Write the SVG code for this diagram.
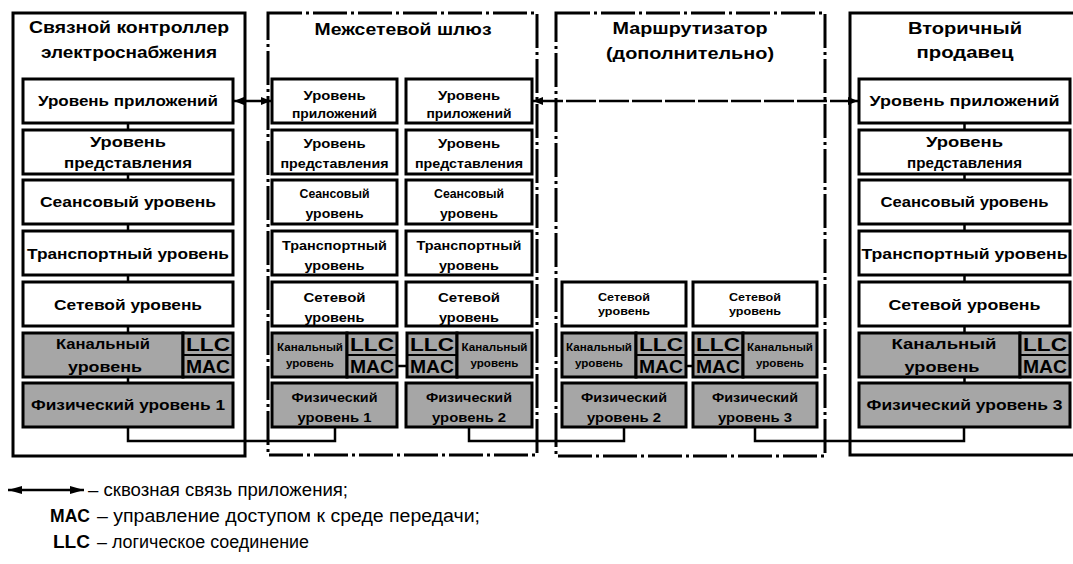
<svg xmlns="http://www.w3.org/2000/svg" width="1073" height="564" viewBox="0 0 1073 564">
<defs>
<style>
.t{font-family:"Liberation Sans",Arial,sans-serif;font-weight:bold;text-anchor:middle;fill:#000}
.l{font-family:"Liberation Sans",Arial,sans-serif;fill:#000;font-size:18px}
.box{fill:#fff;stroke:#000;stroke-width:3}
.g{fill:#a6a6a6;stroke:#000;stroke-width:3}
.outer{fill:none;stroke:#000;stroke-width:3}
.dd{fill:none;stroke:#000;stroke-width:3;stroke-dasharray:34 4 3 4}
.c{fill:none;stroke:#000;stroke-width:2.5}
.f16{font-size:16px}.f15{font-size:15px}.f13{font-size:13px}.f11{font-size:11px}.f18{font-size:18px}
</style>
<marker id="ah" viewBox="0 0 10 8" refX="10" refY="4" markerWidth="10" markerHeight="8" markerUnits="userSpaceOnUse" orient="auto-start-reverse"><path d="M0,0 L10,4 L0,8 z" fill="#000"/></marker>
<marker id="ahl" viewBox="0 0 14 8" refX="14" refY="4" markerWidth="14" markerHeight="8" markerUnits="userSpaceOnUse" orient="auto-start-reverse"><path d="M0,0 L14,4 L0,8 z" fill="#000"/></marker>
</defs>
<rect width="1073" height="564" fill="#fff"/>

<g id="connectors">
<path class="c" d="M128 123 V383"/>
<path class="c" d="M964.5 123 V383"/>
<path class="c" d="M128 427 V441 H335 V427"/>
<path class="c" d="M469 427 V441 H624 V427"/>
<path class="c" d="M755 427 V441 H964 V427"/>
<path class="c" d="M397 366 H407"/>
<path class="c" d="M686 366 H693"/>
<path class="c" d="M234 101 H271" marker-start="url(#ah)" marker-end="url(#ah)"/>
<path class="c" d="M533 101 H858" stroke-dasharray="30 3" marker-start="url(#ah)" marker-end="url(#ah)"/>
</g>

<g id="controller">
<rect class="outer" x="13" y="13" width="232" height="443"/>
<text class="t f16" x="129" y="33" textLength="200" lengthAdjust="spacingAndGlyphs">Связной контроллер</text>
<text class="t f16" x="129" y="58" textLength="176" lengthAdjust="spacingAndGlyphs">электроснабжения</text>
<rect class="box" x="23" y="79" width="210" height="44"/>
<text class="t f15" x="128" y="106" textLength="180" lengthAdjust="spacingAndGlyphs">Уровень приложений</text>
<rect class="box" x="23" y="130" width="210" height="44"/>
<text class="t f15" x="128" y="147" textLength="76" lengthAdjust="spacingAndGlyphs">Уровень</text>
<text class="t f15" x="128" y="168" textLength="128" lengthAdjust="spacingAndGlyphs">представления</text>
<rect class="box" x="23" y="180" width="210" height="44"/>
<text class="t f15" x="128" y="207" textLength="176" lengthAdjust="spacingAndGlyphs">Сеансовый уровень</text>
<rect class="box" x="23" y="231" width="210" height="44"/>
<text class="t f15" x="128" y="259" textLength="202" lengthAdjust="spacingAndGlyphs">Транспортный уровень</text>
<rect class="box" x="23" y="282" width="210" height="44"/>
<text class="t f15" x="128" y="310" textLength="148" lengthAdjust="spacingAndGlyphs">Сетевой уровень</text>
<rect class="g" x="23" y="333" width="160" height="44"/>
<text class="t f15" x="103" y="349" textLength="94" lengthAdjust="spacingAndGlyphs">Канальный</text>
<text class="t f15" x="105" y="372" textLength="74" lengthAdjust="spacingAndGlyphs">уровень</text>
<rect class="g" x="183" y="333" width="50" height="44"/>
<line x1="183" y1="355" x2="233" y2="355" stroke="#000" stroke-width="2"/>
<text class="t f18" x="208" y="350.5" textLength="44" lengthAdjust="spacingAndGlyphs">LLC</text>
<text class="t f18" x="208" y="372.5" textLength="44" lengthAdjust="spacingAndGlyphs">MAC</text>
<rect class="g" x="23" y="383" width="210" height="44"/>
<text class="t f15" x="128" y="410" textLength="194" lengthAdjust="spacingAndGlyphs">Физический уровень 1</text>
</g>

<g id="gateway">
<rect class="dd" x="268" y="13" width="269" height="442"/>
<text class="t f16" x="403" y="35" textLength="177" lengthAdjust="spacingAndGlyphs">Межсетевой шлюз</text>
<rect class="box" x="272" y="79" width="125" height="44"/>
<text class="t f13" x="334.5" y="100" textLength="62" lengthAdjust="spacingAndGlyphs">Уровень</text>
<text class="t f13" x="334.5" y="118" textLength="85" lengthAdjust="spacingAndGlyphs">приложений</text>
<rect class="box" x="406" y="79" width="126" height="44"/>
<text class="t f13" x="469" y="100" textLength="62" lengthAdjust="spacingAndGlyphs">Уровень</text>
<text class="t f13" x="469" y="118" textLength="85" lengthAdjust="spacingAndGlyphs">приложений</text>
<rect class="box" x="272" y="130" width="125" height="44"/>
<text class="t f13" x="334.5" y="148" textLength="62" lengthAdjust="spacingAndGlyphs">Уровень</text>
<text class="t f13" x="334.5" y="168" textLength="108" lengthAdjust="spacingAndGlyphs">представления</text>
<rect class="box" x="406" y="130" width="126" height="44"/>
<text class="t f13" x="469" y="148" textLength="62" lengthAdjust="spacingAndGlyphs">Уровень</text>
<text class="t f13" x="469" y="168" textLength="108" lengthAdjust="spacingAndGlyphs">представления</text>
<rect class="box" x="272" y="180" width="125" height="44"/>
<text class="t f13" x="334.5" y="198" textLength="70" lengthAdjust="spacingAndGlyphs">Сеансовый</text>
<text class="t f13" x="334.5" y="218" textLength="58" lengthAdjust="spacingAndGlyphs">уровень</text>
<rect class="box" x="406" y="180" width="126" height="44"/>
<text class="t f13" x="469" y="198" textLength="70" lengthAdjust="spacingAndGlyphs">Сеансовый</text>
<text class="t f13" x="469" y="218" textLength="58" lengthAdjust="spacingAndGlyphs">уровень</text>
<rect class="box" x="272" y="231" width="125" height="44"/>
<text class="t f13" x="334.5" y="250" textLength="105" lengthAdjust="spacingAndGlyphs">Транспортный</text>
<text class="t f13" x="334.5" y="270" textLength="60" lengthAdjust="spacingAndGlyphs">уровень</text>
<rect class="box" x="406" y="231" width="126" height="44"/>
<text class="t f13" x="469" y="250" textLength="105" lengthAdjust="spacingAndGlyphs">Транспортный</text>
<text class="t f13" x="469" y="270" textLength="60" lengthAdjust="spacingAndGlyphs">уровень</text>
<rect class="box" x="272" y="282" width="125" height="44"/>
<text class="t f13" x="334.5" y="302" textLength="62" lengthAdjust="spacingAndGlyphs">Сетевой</text>
<text class="t f13" x="334.5" y="322" textLength="60" lengthAdjust="spacingAndGlyphs">уровень</text>
<rect class="box" x="406" y="282" width="126" height="44"/>
<text class="t f13" x="469" y="302" textLength="62" lengthAdjust="spacingAndGlyphs">Сетевой</text>
<text class="t f13" x="469" y="322" textLength="60" lengthAdjust="spacingAndGlyphs">уровень</text>
<rect class="g" x="272" y="333" width="75" height="44"/>
<text class="t f11" x="310" y="351" textLength="66" lengthAdjust="spacingAndGlyphs">Канальный</text>
<text class="t f11" x="310" y="367" textLength="48" lengthAdjust="spacingAndGlyphs">уровень</text>
<rect class="g" x="347" y="333" width="50" height="44"/>
<line x1="347" y1="355" x2="397" y2="355" stroke="#000" stroke-width="2"/>
<text class="t f18" x="372" y="350.5" textLength="44" lengthAdjust="spacingAndGlyphs">LLC</text>
<text class="t f18" x="372" y="372.5" textLength="44" lengthAdjust="spacingAndGlyphs">MAC</text>
<rect class="g" x="407" y="333" width="50" height="44"/>
<line x1="407" y1="355" x2="457" y2="355" stroke="#000" stroke-width="2"/>
<text class="t f18" x="432" y="350.5" textLength="44" lengthAdjust="spacingAndGlyphs">LLC</text>
<text class="t f18" x="432" y="372.5" textLength="44" lengthAdjust="spacingAndGlyphs">MAC</text>
<rect class="g" x="457" y="333" width="75" height="44"/>
<text class="t f11" x="494.5" y="351" textLength="66" lengthAdjust="spacingAndGlyphs">Канальный</text>
<text class="t f11" x="494.5" y="367" textLength="48" lengthAdjust="spacingAndGlyphs">уровень</text>
<rect class="g" x="272" y="383" width="125" height="44"/>
<text class="t f13" x="334.5" y="402" textLength="86" lengthAdjust="spacingAndGlyphs">Физический</text>
<text class="t f13" x="334.5" y="422" textLength="74" lengthAdjust="spacingAndGlyphs">уровень 1</text>
<rect class="g" x="406" y="383" width="126" height="44"/>
<text class="t f13" x="469" y="402" textLength="86" lengthAdjust="spacingAndGlyphs">Физический</text>
<text class="t f13" x="469" y="422" textLength="74" lengthAdjust="spacingAndGlyphs">уровень 2</text>
</g>

<g id="router">
<rect class="dd" x="556" y="13" width="269" height="443"/>
<text class="t f16" x="690" y="34" textLength="155" lengthAdjust="spacingAndGlyphs">Маршрутизатор</text>
<text class="t f16" x="690" y="59" textLength="168" lengthAdjust="spacingAndGlyphs">(дополнительно)</text>
<rect class="box" x="562" y="282" width="124" height="44"/>
<text class="t f11" x="624" y="301" textLength="52" lengthAdjust="spacingAndGlyphs">Сетевой</text>
<text class="t f11" x="624" y="315" textLength="52" lengthAdjust="spacingAndGlyphs">уровень</text>
<rect class="box" x="693" y="282" width="124" height="44"/>
<text class="t f11" x="755" y="301" textLength="52" lengthAdjust="spacingAndGlyphs">Сетевой</text>
<text class="t f11" x="755" y="315" textLength="52" lengthAdjust="spacingAndGlyphs">уровень</text>
<rect class="g" x="562" y="333" width="74" height="44"/>
<text class="t f11" x="599" y="351" textLength="66" lengthAdjust="spacingAndGlyphs">Канальный</text>
<text class="t f11" x="599" y="367" textLength="48" lengthAdjust="spacingAndGlyphs">уровень</text>
<rect class="g" x="636" y="333" width="50" height="44"/>
<line x1="636" y1="355" x2="686" y2="355" stroke="#000" stroke-width="2"/>
<text class="t f18" x="661" y="350.5" textLength="44" lengthAdjust="spacingAndGlyphs">LLC</text>
<text class="t f18" x="661" y="372.5" textLength="44" lengthAdjust="spacingAndGlyphs">MAC</text>
<rect class="g" x="693" y="333" width="50" height="44"/>
<line x1="693" y1="355" x2="743" y2="355" stroke="#000" stroke-width="2"/>
<text class="t f18" x="718" y="350.5" textLength="44" lengthAdjust="spacingAndGlyphs">LLC</text>
<text class="t f18" x="718" y="372.5" textLength="44" lengthAdjust="spacingAndGlyphs">MAC</text>
<rect class="g" x="743" y="333" width="74" height="44"/>
<text class="t f11" x="780" y="351" textLength="66" lengthAdjust="spacingAndGlyphs">Канальный</text>
<text class="t f11" x="780" y="367" textLength="48" lengthAdjust="spacingAndGlyphs">уровень</text>
<rect class="g" x="562" y="383" width="124" height="44"/>
<text class="t f13" x="624" y="402" textLength="86" lengthAdjust="spacingAndGlyphs">Физический</text>
<text class="t f13" x="624" y="422" textLength="74" lengthAdjust="spacingAndGlyphs">уровень 2</text>
<rect class="g" x="693" y="383" width="124" height="44"/>
<text class="t f13" x="755" y="402" textLength="86" lengthAdjust="spacingAndGlyphs">Физический</text>
<text class="t f13" x="755" y="422" textLength="74" lengthAdjust="spacingAndGlyphs">уровень 3</text>
</g>

<g id="retailer">
<rect class="outer" x="850" y="13" width="240" height="442"/>
<text class="t f16" x="965" y="34" textLength="114" lengthAdjust="spacingAndGlyphs">Вторичный</text>
<text class="t f16" x="965" y="58" textLength="97" lengthAdjust="spacingAndGlyphs">продавец</text>
<rect class="box" x="859" y="79" width="211" height="44"/>
<text class="t f15" x="964.5" y="106" textLength="190" lengthAdjust="spacingAndGlyphs">Уровень приложений</text>
<rect class="box" x="859" y="130" width="211" height="44"/>
<text class="t f15" x="964.5" y="147" textLength="77" lengthAdjust="spacingAndGlyphs">Уровень</text>
<text class="t f15" x="964.5" y="168" textLength="115" lengthAdjust="spacingAndGlyphs">представления</text>
<rect class="box" x="859" y="180" width="211" height="44"/>
<text class="t f15" x="964.5" y="207" textLength="168" lengthAdjust="spacingAndGlyphs">Сеансовый уровень</text>
<rect class="box" x="859" y="231" width="211" height="44"/>
<text class="t f15" x="964.5" y="259" textLength="206" lengthAdjust="spacingAndGlyphs">Транспортный уровень</text>
<rect class="box" x="859" y="282" width="211" height="44"/>
<text class="t f15" x="964.5" y="310" textLength="152" lengthAdjust="spacingAndGlyphs">Сетевой уровень</text>
<rect class="g" x="859" y="333" width="161" height="44"/>
<text class="t f15" x="944" y="349" textLength="105" lengthAdjust="spacingAndGlyphs">Канальный</text>
<text class="t f15" x="942" y="372" textLength="75" lengthAdjust="spacingAndGlyphs">уровень</text>
<rect class="g" x="1020" y="333" width="50" height="44"/>
<line x1="1020" y1="355" x2="1070" y2="355" stroke="#000" stroke-width="2"/>
<text class="t f18" x="1045" y="350.5" textLength="44" lengthAdjust="spacingAndGlyphs">LLC</text>
<text class="t f18" x="1045" y="372.5" textLength="44" lengthAdjust="spacingAndGlyphs">MAC</text>
<rect class="g" x="859" y="383" width="211" height="44"/>
<text class="t f15" x="964.5" y="410" textLength="196" lengthAdjust="spacingAndGlyphs">Физический уровень 3</text>
</g>

<g id="legend">
<path class="c" d="M8 490 H84" marker-start="url(#ahl)" marker-end="url(#ahl)"/>
<text class="l" x="88" y="496" textLength="260" lengthAdjust="spacingAndGlyphs">– сквозная связь приложения;</text>
<text class="l" x="50" y="522" font-weight="bold" textLength="40" lengthAdjust="spacingAndGlyphs">MAC</text>
<text class="l" x="97" y="522" textLength="383" lengthAdjust="spacingAndGlyphs">– управление доступом к среде передачи;</text>
<text class="l" x="53" y="548" font-weight="bold" textLength="37" lengthAdjust="spacingAndGlyphs">LLC</text>
<text class="l" x="97" y="548" textLength="212" lengthAdjust="spacingAndGlyphs">– логическое соединение</text>
</g>
</svg>
